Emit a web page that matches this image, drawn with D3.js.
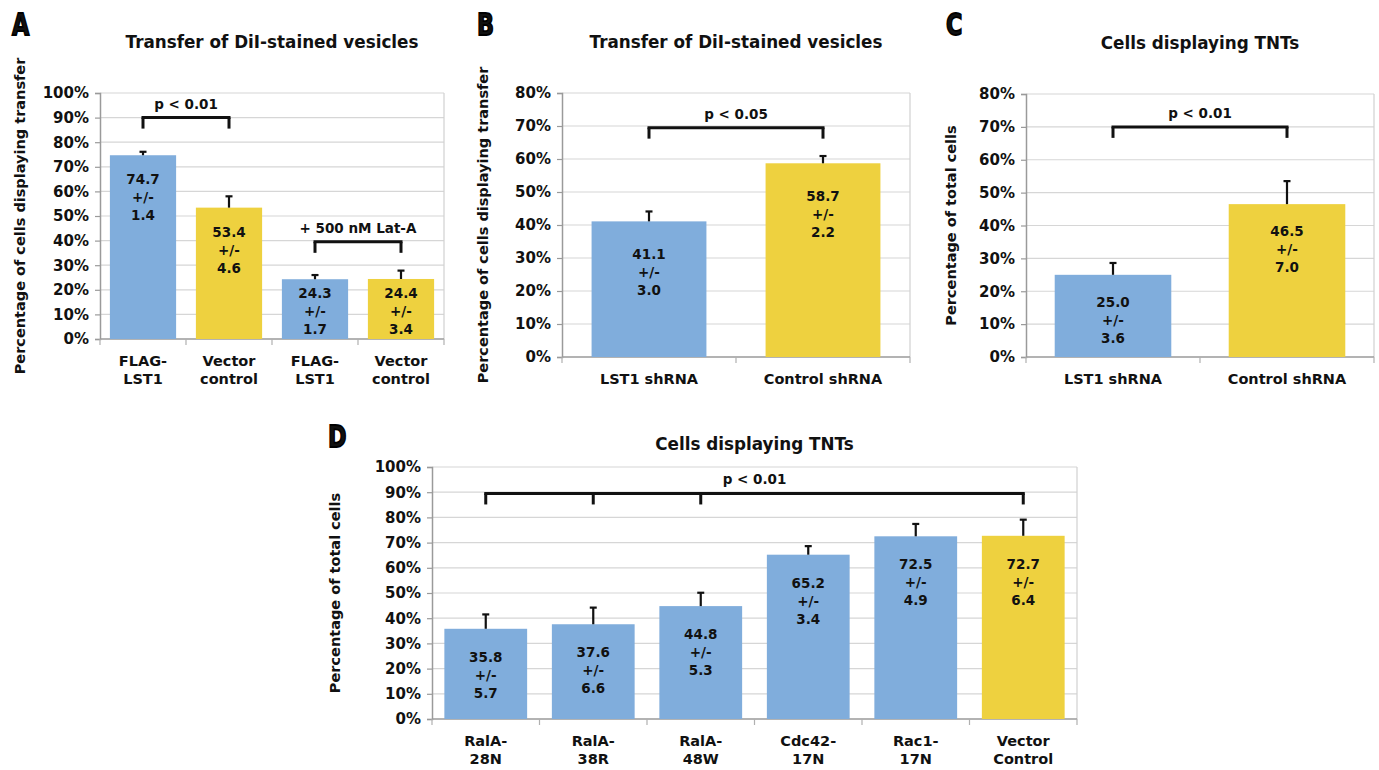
<!DOCTYPE html>
<html><head><meta charset="utf-8">
<script src="https://cdn.jsdelivr.net/npm/d3@7"></script>
<style>
body{margin:0;background:#fff;}
svg text{font-family:"DejaVu Sans",Verdana,sans-serif;font-weight:bold;fill:#111;}
</style></head>
<body><svg id="c" width="1379" height="770"></svg>
<script>
// ---------- DATA ----------
const catsA = [["FLAG-","LST1"],["Vector","control"],["FLAG-","LST1"],["Vector","control"]];
const valsA = [74.7, 53.4, 24.3, 24.4];
const errsA = [1.4, 4.6, 1.7, 3.4];
const kindsA = ["exp","ctl","exp","ctl"];
const bracketsA = [
  {legs:[0,1], y:90, label:"p < 0.01"},
  {legs:[2,3], y:39.5, label:"+ 500 nM Lat-A"}
];

const catsB = [["LST1 shRNA"],["Control shRNA"]];
const valsB = [41.1, 58.7];
const errsB = [3.0, 2.2];
const kindsB = ["exp","ctl"];
const bracketsB = [{legs:[0,1], y:69.5, label:"p < 0.05"}];

const catsC = [["LST1 shRNA"],["Control shRNA"]];
const valsC = [25.0, 46.5];
const errsC = [3.6, 7.0];
const kindsC = ["exp","ctl"];
const bracketsC = [{legs:[0,1], y:70, label:"p < 0.01"}];

const catsD = [["RalA-","28N"],["RalA-","38R"],["RalA-","48W"],["Cdc42-","17N"],["Rac1-","17N"],["Vector","Control"]];
const valsD = [35.8, 37.6, 44.8, 65.2, 72.5, 72.7];
const errsD = [5.7, 6.6, 5.3, 3.4, 4.9, 6.4];
const kindsD = ["exp","exp","exp","exp","exp","ctl"];
const bracketsD = [{legs:[0,1,2,5], y:89.5, label:"p < 0.01"}];

// ---------- STYLE ----------
const COLORS = {exp:"#80ADDC", ctl:"#EED13F"};
const svg = d3.select("#c");
svg.append("rect").attr("width",1379).attr("height",770).attr("fill","#fff");

function panel(o){
  const g = svg.append("g");
  const x = d3.scaleBand().domain(d3.range(o.cats.length)).range([o.x0,o.x1])
              .paddingInner(o.pad).paddingOuter(o.pad/2);
  const y = d3.scaleLinear().domain([0,o.max]).range([o.y1,o.y0]);
  const ticks = d3.range(0,o.max+0.001,10);

  g.selectAll(".grid").data(ticks.slice(1)).join("line")
    .attr("x1",o.x0).attr("x2",o.x1).attr("y1",d=>y(d)).attr("y2",d=>y(d))
    .attr("stroke","#d6d6d6").attr("stroke-width",1.2);
  g.append("line").attr("x1",o.x1).attr("x2",o.x1).attr("y1",o.y0).attr("y2",o.y1)
    .attr("stroke","#d0d0d0").attr("stroke-width",1.2);

  const ya = d3.axisLeft(y).tickValues(ticks).tickFormat(d=>d+"%").tickSize(5).tickPadding(6);
  const yg = g.append("g").attr("transform",`translate(${o.x0},0)`).call(ya);
  yg.select(".domain").attr("stroke","#9a9a9a").attr("stroke-width",1.5);
  yg.selectAll(".tick line").attr("stroke","#9a9a9a").attr("stroke-width",1.2);
  yg.selectAll(".tick text").attr("font-size",15).attr("font-family","DejaVu Sans").attr("font-weight","bold").attr("fill","#111");

  g.append("line").attr("x1",o.x0).attr("x2",o.x1).attr("y1",o.y1).attr("y2",o.y1)
    .attr("stroke","#9a9a9a").attr("stroke-width",1.5);
  const bounds = d3.range(o.cats.length+1).map(i=>o.x0 + i*(o.x1-o.x0)/o.cats.length);
  g.selectAll(".xt").data(bounds).join("line")
    .attr("x1",d=>d).attr("x2",d=>d).attr("y1",o.y1).attr("y2",o.y1+6)
    .attr("stroke","#b0b0b0").attr("stroke-width",1.2);

  g.selectAll(".bar").data(o.vals).join("rect")
    .attr("x",(d,i)=>x(i)).attr("width",x.bandwidth())
    .attr("y",d=>y(d)).attr("height",d=>y(0)-y(d))
    .attr("fill",(d,i)=>COLORS[o.kinds[i]]);

  o.vals.forEach((v,i)=>{
    const cx = x(i)+x.bandwidth()/2;
    g.append("line").attr("x1",cx).attr("x2",cx).attr("y1",y(v)).attr("y2",y(v+o.errs[i]))
      .attr("stroke","#111").attr("stroke-width",2.2);
    g.append("line").attr("x1",cx-3.5).attr("x2",cx+3.5).attr("y1",y(v+o.errs[i])).attr("y2",y(v+o.errs[i]))
      .attr("stroke","#111").attr("stroke-width",2.2);
  });

  o.vals.forEach((v,i)=>{
    const cx = x(i)+x.bandwidth()/2;
    let mid = Math.min(y(v)+o.lblOff, o.y1-28);
    const lines=[v.toFixed(1),"+/-",o.errs[i].toFixed(1)];
    lines.forEach((t,k)=>{
      g.append("text").attr("x",cx).attr("y",mid+(k-1)*18).attr("text-anchor","middle")
        .attr("dominant-baseline","central").attr("font-size",13.5).text(t);
    });
  });

  o.cats.forEach((c,i)=>{
    const cx = x(i)+x.bandwidth()/2;
    c.forEach((t,k)=>{
      g.append("text").attr("x",cx).attr("y",o.y1+22+k*18).attr("text-anchor","middle")
        .attr("dominant-baseline","central").attr("font-size",14.5).text(t);
    });
  });

  o.brackets.forEach(b=>{
    const xs = b.legs.map(i=>x(i)+x.bandwidth()/2);
    const yy = y(b.y);
    g.append("line").attr("x1",d3.min(xs)-1.5).attr("x2",d3.max(xs)+1.5).attr("y1",yy).attr("y2",yy)
      .attr("stroke","#111").attr("stroke-width",3);
    xs.forEach(xx=>g.append("line").attr("x1",xx).attr("x2",xx).attr("y1",yy).attr("y2",yy+11)
      .attr("stroke","#111").attr("stroke-width",3));
    g.append("text").attr("x",(d3.min(xs)+d3.max(xs))/2).attr("y",yy-14).attr("text-anchor","middle")
      .attr("dominant-baseline","central").attr("font-size",13.5).text(b.label);
  });

  g.append("text").attr("x",(o.x0+o.x1)/2).attr("y",o.titleY).attr("text-anchor","middle")
    .attr("dominant-baseline","central").attr("font-size",16.8).text(o.title);
  g.append("text").attr("transform",`translate(${o.ylX},${(o.y0+o.y1)/2}) rotate(-90)`)
    .attr("text-anchor","middle").attr("dominant-baseline","central").attr("font-size",14.5).text(o.ylabel);
  g.append("text").attr("transform",`translate(${o.letter[1]},${o.letter[2]}) scale(0.72,1)`)
    .attr("font-size",31).attr("font-family","DejaVu Sans").attr("font-weight","bold")
    .attr("stroke","#000").attr("stroke-width",1.8).attr("fill","#000").text(o.letter[0]);
}

panel({cats:catsA, vals:valsA, errs:errsA, kinds:kindsA, brackets:bracketsA, max:100,
  x0:100, x1:444, y0:93, y1:339, pad:0.23, lblOff:42, titleY:42, ylX:20,
  title:"Transfer of DiI-stained vesicles", ylabel:"Percentage of cells displaying transfer", letter:["A",12,35]});
panel({cats:catsB, vals:valsB, errs:errsB, kinds:kindsB, brackets:bracketsB, max:80,
  x0:562, x1:910, y0:93, y1:357, pad:0.34, lblOff:51, titleY:42, ylX:483,
  title:"Transfer of DiI-stained vesicles", ylabel:"Percentage of cells displaying transfer", letter:["B",477,35]});
panel({cats:catsC, vals:valsC, errs:errsC, kinds:kindsC, brackets:bracketsC, max:80,
  x0:1026, x1:1374, y0:94, y1:357, pad:0.33, lblOff:45, titleY:43, ylX:951,
  title:"Cells displaying TNTs", ylabel:"Percentage of total cells", letter:["C",946,35]});
panel({cats:catsD, vals:valsD, errs:errsD, kinds:kindsD, brackets:bracketsD, max:100,
  x0:432, x1:1077, y0:467, y1:719, pad:0.23, lblOff:46, titleY:444, ylX:335,
  title:"Cells displaying TNTs", ylabel:"Percentage of total cells", letter:["D",328,447]});
</script></body></html>
